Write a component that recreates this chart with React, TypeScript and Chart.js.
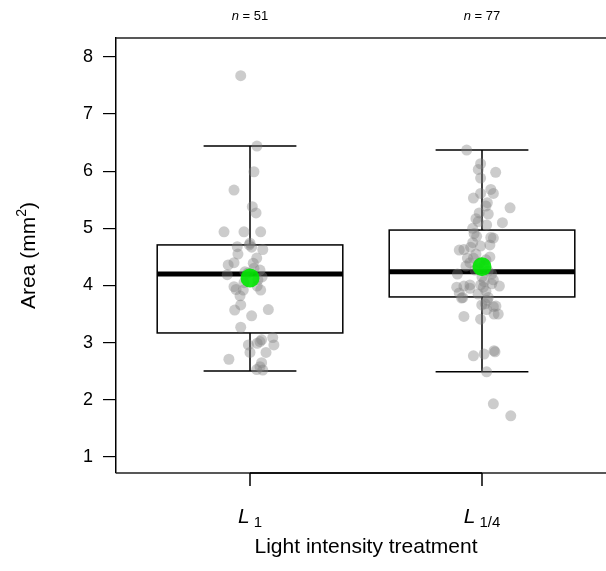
import React, { useEffect, useRef } from "react";
import { Chart, registerables } from "chart.js";

Chart.register(...registerables);

const categories = ["L1", "L1/4"];
const counts = [51, 77];
const yTicks = [1, 2, 3, 4, 5, 6, 7, 8];

// box statistics: [lowWhisker, q1, median, q3, highWhisker]
const boxL1 = [2.505, 3.17, 4.2, 4.71, 6.44];
const boxL14 = [2.49, 3.8, 4.24, 4.97, 6.37];
const means = [4.13, 4.33];

const l1X = [0.96, 1.03, 1.017, 0.931, 1.01, 1.026, 0.888, 0.974, 1.046, 0.945, 0.997, 1.007, 1.055, 1.029, 0.931, 0.906, 0.902, 1.014, 1.043, 0.978, 0.931, 0.94, 0.971, 0.957, 1.046, 1.031, 0.96, 0.934, 1.079, 1.007, 0.96, 1.098, 1.043, 1.05, 0.993, 1.031, 1.103, 1.0, 1.069, 0.909, 1.05, 1.029, 1.055, 1.043, 1.0, 0.991, 1.034, 0.974, 1.017, 1.052, 0.948];
const l1Y = [7.67, 6.44, 5.99, 5.67, 5.38, 5.27, 4.94, 4.94, 4.94, 4.68, 4.71, 4.67, 4.63, 4.48, 4.4, 4.36, 4.19, 4.39, 4.27, 4.24, 3.98, 3.93, 3.92, 3.82, 3.92, 3.99, 3.66, 3.57, 3.58, 3.47, 3.27, 3.09, 3.02, 3.05, 2.96, 2.99, 2.96, 2.83, 2.83, 2.71, 2.65, 2.53, 2.52, 2.58, 4.74, 4.22, 4.1, 4.05, 4.3, 4.15, 4.55];

const l14X = [1.934, 1.994, 1.984, 2.059, 1.994, 2.038, 2.049, 1.963, 1.994, 2.023, 2.017, 2.121, 1.988, 2.027, 1.974, 1.984, 2.088, 2.02, 1.96, 1.966, 1.977, 2.038, 2.049, 1.96, 1.994, 2.034, 1.902, 1.922, 1.951, 1.937, 1.963, 1.931, 1.97, 1.894, 2.042, 2.049, 1.891, 1.922, 1.948, 1.948, 1.994, 2.009, 2.006, 2.042, 2.075, 1.902, 1.912, 1.917, 2.027, 2.023, 1.999, 2.014, 2.049, 2.06, 2.02, 2.052, 2.07, 1.922, 1.994, 1.963, 2.009, 2.052, 2.056, 2.02, 2.049, 2.124, 1.991, 2.017, 1.983, 2.026, 2.009, 1.974, 2.034, 2.0, 1.948, 2.017, 1.983];
const l14Y = [6.37, 6.13, 6.03, 5.98, 5.88, 5.68, 5.61, 5.53, 5.61, 5.45, 5.39, 5.36, 5.27, 5.25, 5.17, 5.12, 5.1, 5.06, 5.0, 4.91, 4.86, 4.84, 4.83, 4.75, 4.69, 4.71, 4.62, 4.63, 4.67, 4.48, 4.48, 4.34, 4.27, 4.2, 4.2, 4.1, 3.97, 3.99, 4.01, 3.95, 4.01, 4.07, 3.97, 4.03, 3.99, 3.87, 3.78, 3.79, 3.79, 3.74, 3.66, 3.68, 3.63, 3.64, 3.58, 3.5, 3.5, 3.46, 3.41, 2.77, 2.8, 2.86, 2.84, 2.49, 1.93, 1.72, 4.4, 4.45, 4.3, 4.25, 4.35, 4.55, 4.5, 4.15, 4.4, 3.9, 3.85];

const FONT = "'Liberation Sans', Arial, sans-serif";
const BOX_HALF = 0.4;
const CAP_HALF = 0.2;

const boxPlugin = {
  id: "boxPlugin",
  beforeDatasetsDraw(chart: any) {
    const { ctx, scales } = chart;
    const x = scales.x;
    const y = scales.y;
    const boxes = [boxL1, boxL14];
    ctx.save();
    boxes.forEach((b, i) => {
      const c = i + 1;
      const xl = x.getPixelForValue(c - BOX_HALF);
      const xr = x.getPixelForValue(c + BOX_HALF);
      const xc = x.getPixelForValue(c);
      const cl = x.getPixelForValue(c - CAP_HALF);
      const cr = x.getPixelForValue(c + CAP_HALF);
      const [lo, q1, med, q3, hi] = b.map((v) => y.getPixelForValue(v));
      ctx.strokeStyle = "#000";
      ctx.lineWidth = 1.5;
      // whiskers
      ctx.beginPath();
      ctx.moveTo(xc, q3);
      ctx.lineTo(xc, hi);
      ctx.moveTo(cl, hi);
      ctx.lineTo(cr, hi);
      ctx.moveTo(xc, q1);
      ctx.lineTo(xc, lo);
      ctx.moveTo(cl, lo);
      ctx.lineTo(cr, lo);
      ctx.stroke();
      // box
      ctx.strokeRect(xl, q3, xr - xl, q1 - q3);
      // median
      ctx.lineWidth = 5;
      ctx.beginPath();
      ctx.moveTo(xl, med);
      ctx.lineTo(xr, med);
      ctx.stroke();
    });
    ctx.restore();
  },
  afterDraw(chart: any) {
    const { ctx, scales, chartArea } = chart;
    const x = scales.x;
    const y = scales.y;
    ctx.save();
    // frame top and bottom
    ctx.strokeStyle = "#222";
    ctx.lineWidth = 1.5;
    ctx.beginPath();
    ctx.moveTo(chartArea.left, chartArea.top);
    ctx.lineTo(chartArea.right, chartArea.top);
    ctx.moveTo(chartArea.left, chartArea.bottom);
    ctx.lineTo(chartArea.right, chartArea.bottom);
    ctx.stroke();
    // x axis ticks
    ctx.strokeStyle = "#000";
    ctx.beginPath();
    ctx.moveTo(x.getPixelForValue(1), chartArea.bottom);
    ctx.lineTo(x.getPixelForValue(2), chartArea.bottom);
    [1, 2].forEach((c) => {
      const px = x.getPixelForValue(c);
      ctx.moveTo(px, chartArea.bottom);
      ctx.lineTo(px, chartArea.bottom + 13);
    });
    ctx.stroke();

    ctx.fillStyle = "#000";
    ctx.textBaseline = "alphabetic";
    // n labels
    counts.forEach((n, i) => {
      const px = x.getPixelForValue(i + 1);
      ctx.font = `italic 13px ${FONT}`;
      const w1 = ctx.measureText("n").width;
      ctx.font = `13px ${FONT}`;
      const rest = " = " + n;
      const w2 = ctx.measureText(rest).width;
      const start = px - (w1 + w2) / 2;
      ctx.font = `italic 13px ${FONT}`;
      ctx.textAlign = "left";
      ctx.fillText("n", start, 20);
      ctx.font = `13px ${FONT}`;
      ctx.fillText(rest, start + w1, 20);
    });

    // category labels with subscripts
    categories.forEach((cat, i) => {
      const px = x.getPixelForValue(i + 1);
      const main = cat.charAt(0);
      const sub = cat.slice(1);
      ctx.font = `italic 21px ${FONT}`;
      const w1 = ctx.measureText(main).width;
      ctx.font = `15px ${FONT}`;
      const gap = 4;
      const w2 = ctx.measureText(sub).width;
      const start = px - (w1 + gap + w2) / 2;
      ctx.textAlign = "left";
      ctx.font = `italic 21px ${FONT}`;
      ctx.fillText(main, start, 523);
      ctx.font = `15px ${FONT}`;
      ctx.fillText(sub, start + w1 + gap, 527);
    });

    // x title
    ctx.font = `21px ${FONT}`;
    ctx.textAlign = "center";
    ctx.fillText("Light intensity treatment", (x.getPixelForValue(1) + x.getPixelForValue(2)) / 2, 553);

    // y title with superscript
    ctx.save();
    const cy = (chartArea.top + chartArea.bottom) / 2;
    ctx.translate(35, cy);
    ctx.rotate(-Math.PI / 2);
    ctx.font = `21px ${FONT}`;
    const p1 = "Area (mm";
    const p3 = ")";
    const w1 = ctx.measureText(p1).width;
    const w3 = ctx.measureText(p3).width;
    ctx.font = `14px ${FONT}`;
    const w2 = ctx.measureText("2").width;
    const total = w1 + w2 + w3;
    let sx = -total / 2;
    ctx.textAlign = "left";
    ctx.font = `21px ${FONT}`;
    ctx.fillText(p1, sx, 0);
    sx += w1;
    ctx.font = `14px ${FONT}`;
    ctx.fillText("2", sx, -9);
    sx += w2;
    ctx.font = `21px ${FONT}`;
    ctx.fillText(p3, sx, 0);
    ctx.restore();

    ctx.restore();
  },
};

export default function App() {
  const ref = useRef<HTMLCanvasElement>(null);
  useEffect(() => {
    document.body.style.margin = "0";
    const toPts = (xs: number[], ys: number[]) => xs.map((v, i) => ({ x: v, y: ys[i] }));
    const chart = new Chart(ref.current!, {
      type: "scatter",
      data: {
        datasets: [
          {
            label: "mean",
            data: means.map((m, i) => ({ x: i + 1, y: m })),
            backgroundColor: "rgba(0,230,0,0.9)",
            borderWidth: 0,
            pointRadius: 9.5,
            order: 0,
          },
          {
            label: categories[0],
            data: toPts(l1X, l1Y),
            backgroundColor: "rgba(128,128,128,0.4)",
            borderWidth: 0,
            pointRadius: 5.5,
            order: 1,
          },
          {
            label: categories[1],
            data: toPts(l14X, l14Y),
            backgroundColor: "rgba(128,128,128,0.4)",
            borderWidth: 0,
            pointRadius: 5.5,
            order: 1,
          },
        ],
      },
      options: {
        responsive: false,
        animation: false,
        devicePixelRatio: 1,
        layout: { padding: { left: 0, top: 38, right: 24, bottom: 98 } },
        plugins: { legend: { display: false }, tooltip: { enabled: false } },
        scales: {
          x: { type: "linear", min: 0.4224, max: 2.5776, display: false },
          y: {
            type: "linear",
            min: 0.72,
            max: 8.33,
            afterBuildTicks: (s: any) => {
              s.ticks = yTicks.map((v) => ({ value: v }));
            },
            afterFit: (s: any) => {
              s.width = 116;
            },
            grid: { drawOnChartArea: false, drawTicks: true, tickLength: 13, color: "#000", lineWidth: 1.2 },
            border: { display: true, color: "#000", width: 1.5 },
            ticks: { color: "#000", font: { family: FONT, size: 18 }, padding: 10 },
          },
        },
      },
      plugins: [boxPlugin],
    });
    return () => chart.destroy();
  }, []);
  return (
    <div style={{ position: "absolute", left: 0, top: 0, width: 606, height: 571, overflow: "hidden", background: "#fff" }}>
      <canvas ref={ref} width={640} height={571} style={{ width: 640, height: 571, display: "block" }} />
    </div>
  );
}
